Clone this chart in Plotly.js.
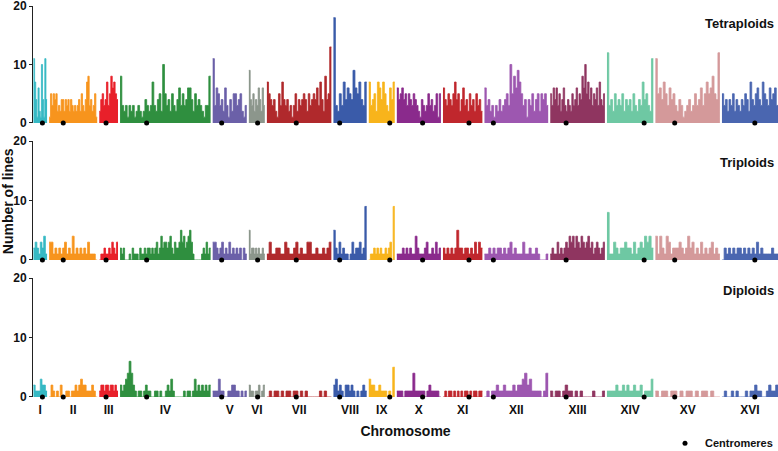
<!DOCTYPE html>
<html>
<head>
<meta charset="utf-8">
<script src="https://cdn.plot.ly/plotly-3.0.1.min.js"></script>
<style>html,body{margin:0;padding:0;background:#fff;}#chart{width:778px;height:451px;}</style>
</head>
<body>
<div id="chart"></div>
<script>
const CHR_NAMES = ['I','II','III','IV','V','VI','VII','VIII','IX','X','XI','XII','XIII','XIV','XV','XVI'];
const CHR_LENGTHS_KB = [230.2, 813.2, 316.6, 1531.9, 576.9, 270.2, 1090.9, 562.6, 439.9, 745.8, 666.8, 1078.2, 924.4, 784.3, 1091.3, 948.1];
const CENTROMERES_KB = [151.5, 238.2, 114.4, 449.7, 151.9, 148.5, 496.9, 105.6, 355.6, 436.3, 440.1, 150.8, 268.0, 628.8, 326.6, 555.9];
const CHR_COLORS = ['#36b9c4','#f7941d','#e8202a','#2f8f3f','#6b60a8','#8c968c','#b0292c','#3a5ba9','#f8b41b','#8a2a8c','#c0272d','#9d57b0','#8f3560','#6ec8a3','#d4999a','#4a66b0'];
const PANEL_LABELS = ['Tetraploids','Triploids','Diploids'];

const TETRAPLOIDS = [
  [11,7,4,1,6,2,1,10,4,1,11,4],
  [1,5,3,5,4,5,2,3,2,4,4,2,4,3,4,2,4,3,2,3,2,3,4,2,5,3,2,4,7,8,3,4,2,3,5,1],
  [2,4,5,3,4,7,3,5,8,6,7,5,4],
  [8,3,2,3,1,3,2,3,1,2,3,2,1,2,4,3,2,3,7,3,2,4,5,2,10,5,3,4,2,5,3,2,4,6,3,5,3,4,6,6,4,2,5,3,4,3,2,1,3,3,8],
  [11,3,6,5,3,4,2,6,3,1,4,2,5,5,3,4,5,2,1,3],
  [9,4,3,5,2,4,3,6,4,2,6,3],
  [7,5,4,3,4,2,1,5,3,7,4,3,4,2,3,1,3,5,2,4,3,4,5,4,2,5,3,4,5,4,6,3,7,4,2,8,4,5,13],
  [18,3,2,5,3,7,4,6,5,4,9,6,5,7,4,3,7],
  [7,3,4,5,2,7,6,4,7,5,3,2,6,4,7],
  [6,4,5,6,4,5,3,5,4,3,5,4,3,2,1,4,3,2,3,5,3,4,2,3,5,1,5],
  [6,4,3,5,4,3,5,7,4,5,2,4,6,3,4,2,5,3,4,2,5,3,4,2],
  [6,3,4,2,3,1,3,2,4,2,3,4,5,3,10,5,8,6,9,7,5,3,4,1,4,3,5,2,4,5,2,5,4,5,3],
  [5,3,6,4,6,3,5,2,4,6,3,2,4,3,2,5,3,4,6,3,5,4,8,6,10,5,7,4,6,3,5,4,6,3,7,4,3,5],
  [12,3,4,2,5,3,4,3,5,2,4,3,4,2,5,3,2,4,3,7,4,5,3,2,11],
  [11,5,6,4,7,5,3,6,4,5,3,2,4,3,1,2,3,4,2,3,5,3,4,6,3,5,7,5,6,8,5,4,12],
  [5,3,4,2,4,3,5,2,4,3,2,4,3,5,4,2,7,4,3,5,6,4,3,7,5,4,3,6,4,5,6,3]
];

const TRIPLOIDS = [
  [2,3,2,1,3,2,4,1],
  [3,3,1,2,1,2,1,2,3,1,2,1,4,1,2,1,2,1,2,1,3,1,1,1,0],
  [0,1,1,2,1,1,2,1,3,2,1,3],
  [2,1,2,0,0,0,1,0,2,1,1,1,0,2,1,1,2,1,2,2,1,2,1,2,3,1,2,4,2,3,3,2,3,4,2,1,3,2,2,3,5,3,4,2,3,4,5,3,1,0,0,0,0,0,1,2,1,3,1,2],
  [3,3,2,1,2,3,1,2,1,3,1,2,1,2,1,2,0,2,1],
  [5,1,2,2,1,2,1,2,1,1,2,1],
  [1,3,1,1,2,2,1,1,3,2,1,1,2,3,1,2,1,1,3,3,1,1,2,1,1,2,1,2,3],
  [5,2,1,3,1,2,1,1,0,1,3,1,2,2,3,1,2,9],
  [0,1,1,2,1,2,1,2,1,1,2,1,2,3,0,9],
  [1,1,1,2,1,2,1,2,1,1,4,2,1,1,1,2,3,1,1,2,1,3,1,2],
  [2,1,2,1,2,1,2,5,2,2,1,2,2,1,2,1,3,1,3,2],
  [1,1,2,1,2,1,2,2,1,2,1,2,3,1,2,1,1,1,3,1,1,2,1,1,2,1,0,0,0,1],
  [1,2,1,1,3,1,2,1,2,3,2,4,3,4,2,4,3,2,4,3,2,3,4,2,3,1,2,3,2,1,2,3],
  [8,1,1,3,2,1,2,2,3,2,2,1,3,1,2,3,2,4,3,4,2],
  [4,1,4,2,1,4,3,1,2,2,2,3,2,1,2,4,2,3,1,2,1,3,1,2,1,2,3,1,2,1],
  [0,2,1,2,1,2,1,2,2,1,2,1,2,1,2,1,3,1,2,1,1,1,1,2,1,1]
];

const DIPLOIDS = [
  [2,1,1,1,3,2,2,1],
  [0,2,1,0,1,0,2,0,0,1,1,0,1,1,2,1,2,3,2,2,1,1,1,2,1,0],
  [1,2,2,1,2,2,1,2,2,1,2,1],
  [2,1,2,3,4,6,4,2,1,0,1,1,0,1,2,1,1,0,0,1,1,0,1,0,0,1,2,1,3,1,0,0,0,0,0,1,0,1,1,0,1,3,1,2,1,2,1,2,1,2],
  [1,1,1,3,1,1,0,0,1,1,2,2,1,1,0,1,0,1],
  [2,1,1,0,1,1,2,0,1,2],
  [0,1,0,1,1,0,1,0,1,1,0,1,1,0,1,0,1,0,0,0,0,0,1,0,1,0,0],
  [2,3,1,2,1,0,2,2,1,2,1,0,1,0,1,2,1],
  [3,2,2,1,1,2,1,1,1,0,1,0,5],
  [1,1,1,0,1,1,1,1,4,1,1,1,1,1,0,1,2,1,1,1,1,0],
  [0,1,0,1,1,0,1,0,1,0,1,0,1,1,0,1,0,1,1,0,1,1],
  [0,1,0,1,1,2,1,1,2,1,1,1,2,1,2,2,3,4,2,3,1,1,1,1,0,1,4],
  [1,0,1,1,0,1,2,1,1,0,1,0,1,0,0,0,0,1,0,0,0,1],
  [1,1,1,1,2,1,1,2,1,2,1,1,2,1,1,2,0,1,1,1,3],
  [1,0,1,1,0,1,1,0,1,0,1,1,0,1,0,1,1,0,1,0,0],
  [0,1,0,0,1,0,1,0,0,0,1,0,1,1,2,1,1,0,0,1,2,1,1,2]
];

const PANELS = [TETRAPLOIDS, TRIPLOIDS, DIPLOIDS];
const GAP_KB = 35;
const FONT = 'Liberation Sans, Arial, Helvetica, sans-serif';

const offsets = [];
let acc = 0;
CHR_LENGTHS_KB.forEach(function (len, i) { offsets.push(acc); acc += len + (i < CHR_LENGTHS_KB.length - 1 ? GAP_KB : 0); });
const totalKb = acc;
const mids = CHR_LENGTHS_KB.map(function (len, i) { return offsets[i] + len / 2; });

const traces = [];
PANELS.forEach(function (panel, p) {
  const yref = p === 0 ? 'y' : 'y' + (p + 1);
  panel.forEach(function (vals, c) {
    const n = vals.length;
    const w = CHR_LENGTHS_KB[c] / n;
    const xs = [], ys = [];
    for (let i = 0; i <= n; i++) {
      xs.push(offsets[c] + i * w);
      ys.push(i < n ? vals[i] : vals[n - 1]);
    }
    traces.push({
      type: 'scatter', mode: 'lines', x: xs, y: ys, xaxis: 'x', yaxis: yref,
      line: {shape: 'hv', color: CHR_COLORS[c], width: 0.8},
      fill: 'tozeroy', fillcolor: CHR_COLORS[c],
      showlegend: false, hoverinfo: 'skip'
    });
  });
  traces.push({
    type: 'scatter', mode: 'markers', name: 'Centromeres',
    x: CENTROMERES_KB.map(function (c, i) { return offsets[i] + c; }),
    y: CENTROMERES_KB.map(function () { return 0; }),
    xaxis: 'x', yaxis: yref, cliponaxis: false,
    marker: {color: '#000', size: 5},
    showlegend: p === 0
  });
});

const domains = [[0.7008, 1], [0.3504, 0.6547], [0, 0.3043]];
function yaxisDef(d) {
  return {
    domain: d, range: [0, 20], tickvals: [0, 10, 20], anchor: 'x',
    showline: true, linecolor: '#222', linewidth: 1, ticks: 'outside', ticklen: 3, tickcolor: '#222',
    showgrid: false, zeroline: false, ticklabeloverflow: 'allow',
    tickfont: {family: FONT, size: 12, color: '#111', weight: 'bold'}
  };
}

const layout = {
  width: 778, height: 451,
  margin: {l: 33, r: 0, t: 6, b: 54, autoexpand: false},
  paper_bgcolor: '#fff', plot_bgcolor: '#fff',
  font: {family: FONT, color: '#111'},
  xaxis: {
    range: [-8, totalKb], anchor: 'y3', showline: false, zeroline: false, showgrid: false,
    tickvals: mids, ticktext: CHR_NAMES, ticks: '', ticklabelstandoff: 4,
    tickfont: {family: FONT, size: 12, color: '#111', weight: 'bold'},
    title: {text: 'Chromosome', font: {family: FONT, size: 14, color: '#111', weight: 'bold'}, standoff: 10}
  },
  yaxis: yaxisDef(domains[0]),
  yaxis2: yaxisDef(domains[1]),
  yaxis3: yaxisDef(domains[2]),
  showlegend: true,
  legend: {x: 1, xanchor: 'right', y: -0.118, yanchor: 'middle', bgcolor: 'rgba(0,0,0,0)',
    font: {family: FONT, size: 11, color: '#111', weight: 'bold'}, itemwidth: 30},
  annotations: [
    {text: 'Number of lines', xref: 'paper', yref: 'paper', x: -0.034, y: 0.5, textangle: -90,
     showarrow: false, xanchor: 'center', yanchor: 'middle',
     font: {family: FONT, size: 14, color: '#111', weight: 'bold'}},
    {text: PANEL_LABELS[0], xref: 'paper', yref: 'paper', x: 0.997, y: 0.9565, xanchor: 'right', yanchor: 'middle', showarrow: false,
     font: {family: FONT, size: 13, color: '#111', weight: 'bold'}},
    {text: PANEL_LABELS[1], xref: 'paper', yref: 'paper', x: 0.997, y: 0.5985, xanchor: 'right', yanchor: 'middle', showarrow: false,
     font: {family: FONT, size: 13, color: '#111', weight: 'bold'}},
    {text: PANEL_LABELS[2], xref: 'paper', yref: 'paper', x: 0.997, y: 0.2711, xanchor: 'right', yanchor: 'middle', showarrow: false,
     font: {family: FONT, size: 13, color: '#111', weight: 'bold'}}
  ]
};

Plotly.newPlot('chart', traces, layout, {displayModeBar: false, staticPlot: true});
</script>
</body>
</html>
